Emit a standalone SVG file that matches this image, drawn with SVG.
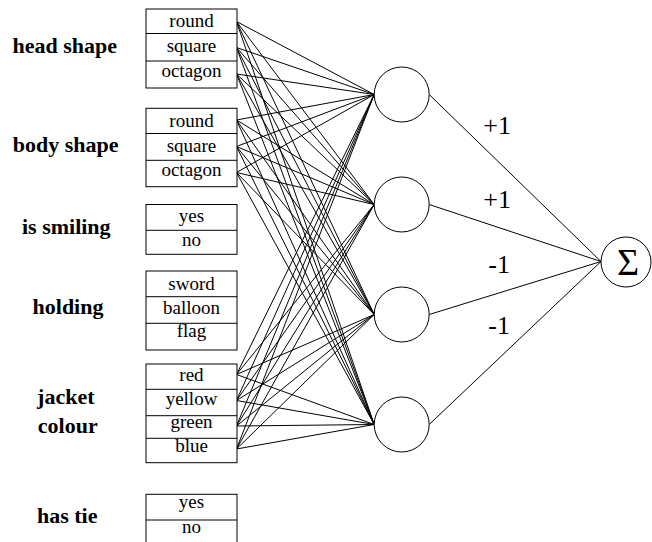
<svg xmlns="http://www.w3.org/2000/svg" width="652" height="542" viewBox="0 0 652 542">
<style>
text{font-family:"Liberation Serif","Times New Roman",Times,"Nimbus Roman","Noto Serif","DejaVu Serif",serif;fill:#000}
.lbl{font-weight:bold;font-size:22px;text-anchor:middle}
.opt{font-size:19px;text-anchor:middle}
.w{font-size:26px}
.box{fill:#fff;stroke:#000;stroke-width:1}
.div{stroke:#000;stroke-width:1}
.neu{fill:#fff;stroke:#000;stroke-width:1}
#connectors line{stroke:#000;stroke-width:1}
</style>
<rect width="652" height="542" fill="#fff"/>
<g id="connectors">
<line x1="236.5" y1="21.5" x2="374.2" y2="94.5"/><line x1="236.5" y1="21.5" x2="374.2" y2="204.5"/><line x1="236.5" y1="21.5" x2="374.2" y2="314.5"/><line x1="236.5" y1="21.5" x2="374.2" y2="424.5"/>
<line x1="236.5" y1="47.5" x2="374.2" y2="94.5"/><line x1="236.5" y1="47.5" x2="374.2" y2="204.5"/><line x1="236.5" y1="47.5" x2="374.2" y2="314.5"/><line x1="236.5" y1="47.5" x2="374.2" y2="424.5"/>
<line x1="236.5" y1="74" x2="374.2" y2="94.5"/><line x1="236.5" y1="74" x2="374.2" y2="204.5"/><line x1="236.5" y1="74" x2="374.2" y2="314.5"/><line x1="236.5" y1="74" x2="374.2" y2="424.5"/>
<line x1="236.5" y1="120" x2="374.2" y2="94.5"/><line x1="236.5" y1="120" x2="374.2" y2="204.5"/><line x1="236.5" y1="120" x2="374.2" y2="314.5"/><line x1="236.5" y1="120" x2="374.2" y2="424.5"/>
<line x1="236.5" y1="146.5" x2="374.2" y2="94.5"/><line x1="236.5" y1="146.5" x2="374.2" y2="204.5"/><line x1="236.5" y1="146.5" x2="374.2" y2="314.5"/><line x1="236.5" y1="146.5" x2="374.2" y2="424.5"/>
<line x1="236.5" y1="172.5" x2="374.2" y2="94.5"/><line x1="236.5" y1="172.5" x2="374.2" y2="204.5"/><line x1="236.5" y1="172.5" x2="374.2" y2="314.5"/><line x1="236.5" y1="172.5" x2="374.2" y2="424.5"/>
<line x1="236.5" y1="374.5" x2="374.2" y2="94.5"/><line x1="236.5" y1="374.5" x2="374.2" y2="204.5"/><line x1="236.5" y1="374.5" x2="374.2" y2="314.5"/><line x1="236.5" y1="374.5" x2="374.2" y2="424.5"/>
<line x1="236.5" y1="400.5" x2="374.2" y2="94.5"/><line x1="236.5" y1="400.5" x2="374.2" y2="204.5"/><line x1="236.5" y1="400.5" x2="374.2" y2="314.5"/><line x1="236.5" y1="400.5" x2="374.2" y2="424.5"/>
<line x1="236.5" y1="426" x2="374.2" y2="94.5"/><line x1="236.5" y1="426" x2="374.2" y2="204.5"/><line x1="236.5" y1="426" x2="374.2" y2="314.5"/><line x1="236.5" y1="426" x2="374.2" y2="424.5"/>
<line x1="236.5" y1="449" x2="374.2" y2="94.5"/><line x1="236.5" y1="449" x2="374.2" y2="204.5"/><line x1="236.5" y1="449" x2="374.2" y2="314.5"/><line x1="236.5" y1="449" x2="374.2" y2="424.5"/>
<line x1="429.2" y1="94.5" x2="601" y2="261.5"/>
<line x1="429.2" y1="204.5" x2="601" y2="261.5"/>
<line x1="429.2" y1="314.5" x2="601" y2="261.5"/>
<line x1="429.2" y1="424.5" x2="601" y2="261.5"/>
</g>
<g id="weights">
<text class="w" x="483.3" y="134">+1</text>
<text class="w" x="483.3" y="208.3">+1</text>
<text class="w" x="488.3" y="272.7">-1</text>
<text class="w" x="488.3" y="334">-1</text>
</g>
<g id="head-shape">
<text class="lbl" x="64.8" y="52.5">head shape</text>
<rect class="box" x="146" y="9" width="91" height="79"/>
<line class="div" x1="146" y1="33.5" x2="237" y2="33.5"/><line class="div" x1="146" y1="61" x2="237" y2="61"/>
<text class="opt" x="191.5" y="26.7">round</text><text class="opt" x="191.5" y="51.7">square</text><text class="opt" x="191.5" y="76.7">octagon</text>
</g>
<g id="body-shape">
<text class="lbl" x="65.7" y="152">body shape</text>
<rect class="box" x="146" y="108.3" width="91" height="78.4"/>
<line class="div" x1="146" y1="133.5" x2="237" y2="133.5"/><line class="div" x1="146" y1="160.3" x2="237" y2="160.3"/>
<text class="opt" x="191.5" y="126.7">round</text><text class="opt" x="191.5" y="151.7">square</text><text class="opt" x="191.5" y="175.7">octagon</text>
</g>
<g id="is-smiling">
<text class="lbl" x="66.3" y="234">is smiling</text>
<rect class="box" x="146" y="204.5" width="91" height="49.8"/>
<line class="div" x1="146" y1="230.3" x2="237" y2="230.3"/>
<text class="opt" x="191.5" y="222.3">yes</text><text class="opt" x="191.5" y="246">no</text>
</g>
<g id="holding">
<text class="lbl" x="68" y="314">holding</text>
<rect class="box" x="146" y="271" width="91" height="79"/>
<line class="div" x1="146" y1="296.7" x2="237" y2="296.7"/><line class="div" x1="146" y1="323.3" x2="237" y2="323.3"/>
<text class="opt" x="191.5" y="290">sword</text><text class="opt" x="191.5" y="314">balloon</text><text class="opt" x="191.5" y="336.7">flag</text>
</g>
<g id="jacket-colour">
<text class="lbl" x="65.8" y="404">jacket</text>
<text class="lbl" x="67.8" y="432.7">colour</text>
<rect class="box" x="146" y="364" width="91" height="98.7"/>
<line class="div" x1="146" y1="389.3" x2="237" y2="389.3"/><line class="div" x1="146" y1="415.7" x2="237" y2="415.7"/><line class="div" x1="146" y1="438.3" x2="237" y2="438.3"/>
<text class="opt" x="191.5" y="380.7">red</text><text class="opt" x="191.5" y="405">yellow</text><text class="opt" x="191.5" y="428.3">green</text><text class="opt" x="191.5" y="451.7">blue</text>
</g>
<g id="has-tie">
<text class="lbl" x="67.2" y="523">has tie</text>
<rect class="box" x="146" y="494.3" width="91" height="60"/>
<line class="div" x1="146" y1="520" x2="237" y2="520"/>
<text class="opt" x="191.5" y="508.3">yes</text><text class="opt" x="191.5" y="533.3">no</text>
</g>
<g id="hidden-1"><circle class="neu" cx="401.7" cy="94.5" r="27.5"/></g>
<g id="hidden-2"><circle class="neu" cx="401.7" cy="204.5" r="27.5"/></g>
<g id="hidden-3"><circle class="neu" cx="401.7" cy="314.5" r="27.5"/></g>
<g id="hidden-4"><circle class="neu" cx="401.7" cy="424.5" r="27.5"/></g>
<g id="sum">
<circle class="neu" cx="626" cy="262" r="25"/>
<text x="628" y="275" font-size="38" text-anchor="middle">Σ</text>
</g>
</svg>
